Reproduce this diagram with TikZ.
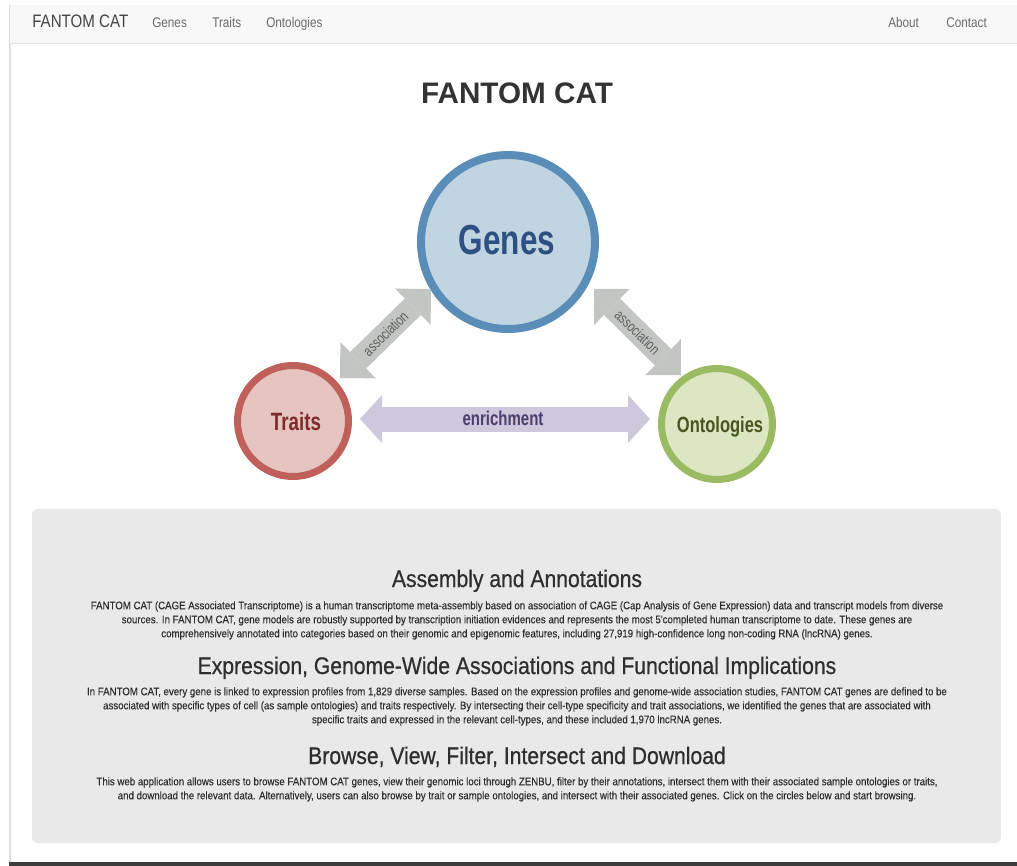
\documentclass[tikz,border=0pt]{standalone}
\usepackage{fontspec}
\setmainfont{Liberation Sans}
\newfontfamily\navfont[FakeStretch=0.84]{Liberation Sans}
\newfontfamily\headfont[FakeStretch=0.88,FakeBold=0.6]{Liberation Sans}
\newfontfamily\bodyfont[FakeStretch=0.88,FakeBold=0.15]{Liberation Sans}
\newfontfamily\condfont[FakeStretch=0.75]{Liberation Sans}
\usetikzlibrary{arrows.meta}
\definecolor{navbg}{HTML}{F8F8F8}
\definecolor{navline}{HTML}{E4E4E4}
\definecolor{brandtext}{HTML}{444444}
\definecolor{navtext}{HTML}{6A6A6A}
\definecolor{titletext}{HTML}{333333}
\definecolor{genesline}{HTML}{5A8DB8}
\definecolor{genesfill}{HTML}{C1D4E1}
\definecolor{genestext}{HTML}{2D5183}
\definecolor{traitsline}{HTML}{C0605A}
\definecolor{traitsfill}{HTML}{E6C4C0}
\definecolor{traitstext}{HTML}{7D2B2B}
\definecolor{ontoline}{HTML}{9ABB61}
\definecolor{ontofill}{HTML}{DCE6C3}
\definecolor{ontotext}{HTML}{46561F}
\definecolor{assocgray}{HTML}{C2C6C2}
\definecolor{assoctext}{HTML}{5F5F5F}
\definecolor{enrichfill}{HTML}{CFC7DB}
\definecolor{enrichtext}{HTML}{4B3F6E}
\definecolor{panelfill}{HTML}{E9E9E9}
\definecolor{bodytext}{HTML}{2E2E2E}
\definecolor{pageshadow}{HTML}{DDDDDD}
\definecolor{bottombar}{HTML}{3C3C3C}
\begin{document}
\begin{tikzpicture}[x=0.75pt,y=-0.75pt,
  navlink/.style={anchor=base west, inner sep=0pt, text=navtext,
    font=\navfont\fontsize{10.5pt}{12pt}\selectfont},
  bubble/.style={circle, draw, inner sep=0pt},
  bubbletext/.style={anchor=base, inner sep=0pt},
  assoc/.style={draw=assocgray, line width=17.25pt, line cap=butt,
    {Triangle[length=19pt,width=38pt,line width=0pt]}-{Triangle[length=19pt,width=38pt,line width=0pt]}},
  enrich/.style={draw=enrichfill, line width=18.75pt, line cap=butt,
    {Triangle[length=16.5pt,width=36pt,line width=0pt]}-{Triangle[length=16.5pt,width=36pt,line width=0pt]}},
  assoclabel/.style={sloped, inner sep=0pt, text=assoctext,
    font=\condfont\fontsize{11.25pt}{12pt}\selectfont},
  heading/.style={anchor=base, inner sep=0pt, text=bodytext,
    font=\headfont\fontsize{18pt}{20pt}\selectfont},
  bodypara/.style={anchor=north, inner sep=0pt, align=center, text=bodytext,
    font=\bodyfont\fontsize{8.25pt}{10.5pt}\selectfont}
]
\useasboundingbox (0,0) rectangle (1017,866);
\fill[white] (0,0) rectangle (1017,866);
% page frame
\fill[pageshadow] (9,5) rectangle (10.5,862);
\fill[navbg] (10,5) rectangle (1017,44);
\draw[navline, line width=0.75pt] (10,44) -- (1017,44);
\fill[bottombar] (9,862) rectangle (1017,866);
% navbar
\node[anchor=base west, inner sep=0pt, text=brandtext,
  font=\navfont\fontsize{13.5pt}{15pt}\selectfont] (brand) at (32,28) {FANTOM CAT};
\node[navlink] (navgenes) at (152,28) {Genes};
\node[navlink] (navtraits) at (212,28) {Traits};
\node[navlink] (navonto) at (266,28) {Ontologies};
\node[navlink] (navabout) at (888,28) {About};
\node[navlink] (navcontact) at (946,28) {Contact};
% title
\node[anchor=base, inner sep=0pt, text=titletext,
  font=\bfseries\fontsize{22.25pt}{24pt}\selectfont] (title) at (517,104) {FANTOM CAT};
% circles
\node[bubble, draw=genesline, fill=genesfill, line width=6pt, minimum size=130.5pt] (genes) at (508,242) {};
\node[bubble, draw=traitsline, fill=traitsfill, line width=5.25pt, minimum size=83.25pt] (traits) at (293,421) {};
\node[bubble, draw=ontoline, fill=ontofill, line width=5.25pt, minimum size=83.25pt] (onto) at (717,424) {};
\node[bubbletext, text=genestext, font=\condfont\bfseries\fontsize{31.5pt}{32pt}\selectfont] (genesl) at (507,255) {Genes};
\node[bubbletext, text=traitstext, font=\condfont\bfseries\fontsize{18.75pt}{20pt}\selectfont] (traitsl) at (296,430) {Traits};
\node[bubbletext, text=ontotext, font=\condfont\bfseries\fontsize{16.5pt}{18pt}\selectfont] (ontol) at (720,432) {Ontologies};
% arrows
\coordinate (a1s) at (340,378);
\coordinate (a1e) at (431,289);
\coordinate (a2s) at (594,289);
\coordinate (a2e) at (681,375);
\coordinate (e1s) at (360,419);
\coordinate (e1e) at (650,419);
\draw[assoc] (a1s) -- node[assoclabel] (assocl) {association} (a1e);
\draw[assoc] (a2s) -- node[assoclabel] (assocr) {association} (a2e);
\draw[enrich] (e1s) -- (e1e);
\node[anchor=base, inner sep=0pt, text=enrichtext,
  font=\condfont\bfseries\fontsize{15pt}{16pt}\selectfont] (enrichl) at (503,425) {enrichment};
% panel
\fill[panelfill, rounded corners=4.5pt] (32,509) rectangle (1001,843);
\node[heading] (h1) at (517,587) {Assembly and Annotations};
\node[bodypara] (p1) at (517,601) {FANTOM CAT (CAGE Associated Transcriptome) is a human transcriptome meta-assembly based on association of CAGE (Cap Analysis of Gene Expression) data and transcript models from diverse\\
sources. In FANTOM CAT, gene models are robustly supported by transcription initiation evidences and represents the most 5'completed human transcriptome to date. These genes are\\
comprehensively annotated into categories based on their genomic and epigenomic features, including 27,919 high-confidence long non-coding RNA (lncRNA) genes.};
\node[heading] (h2) at (517,674) {Expression, Genome-Wide Associations and Functional Implications};
\node[bodypara] (p2) at (517,687) {In FANTOM CAT, every gene is linked to expression profiles from 1,829 diverse samples. Based on the expression profiles and genome-wide association studies, FANTOM CAT genes are defined to be\\
associated with specific types of cell (as sample ontologies) and traits respectively. By intersecting their cell-type specificity and trait associations, we identified the genes that are associated with\\
specific traits and expressed in the relevant cell-types, and these included 1,970 lncRNA genes.};
\node[heading] (h3) at (517,764) {Browse, View, Filter, Intersect and Download};
\node[bodypara] (p3) at (517,777) {This web application allows users to browse FANTOM CAT genes, view their genomic loci through ZENBU, filter by their annotations, intersect them with their associated sample ontologies or traits,\\
and download the relevant data. Alternatively, users can also browse by trait or sample ontologies, and intersect with their associated genes. Click on the circles below and start browsing.};
\end{tikzpicture}
\end{document}
